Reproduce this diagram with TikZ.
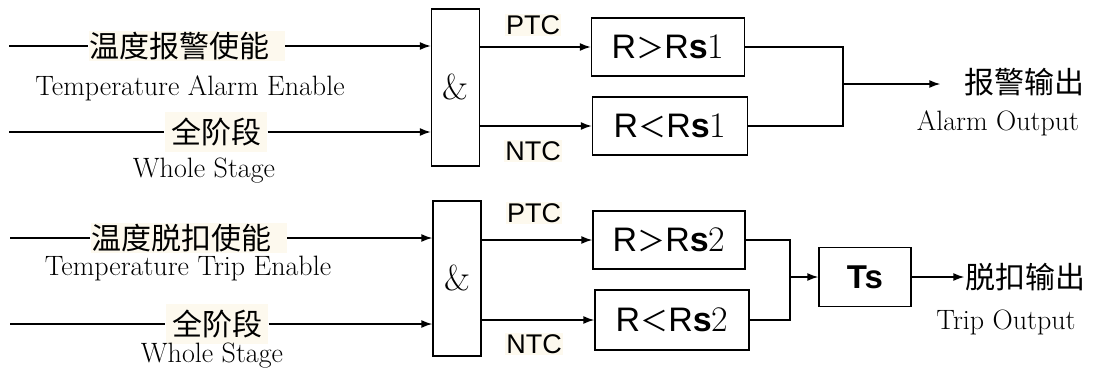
\documentclass[tikz,border=0pt]{standalone}
\usepackage{fontspec}
\usepackage{tikz}
\usetikzlibrary{arrows.meta}
\newfontfamily\cjk{Noto Sans CJK SC}
\newfontfamily\arial{Liberation Sans}
\definecolor{paper}{RGB}{253,249,238}
\newcommand{\gt}{{\cjk\fontsize{28}{30}\selectfont ＞}}
\newcommand{\lt}{{\cjk\fontsize{28}{30}\selectfont ＜}}
\newcommand{\dig}[1]{{\normalfont\fontsize{36}{36}\selectfont #1}}

\begin{document}
\begin{tikzpicture}[x=1pt, y=-1pt, line width=1.4pt,
	arr/.style = {-{Latex[length=11pt, width=8pt]}},
	cn/.style = {fill=paper, inner sep=1pt, font=\cjk\fontsize{30}{32}\selectfont},
	en/.style = {inner sep=0pt, font=\fontsize{28}{30}\selectfont},
	tag/.style = {fill=paper, inner sep=1pt, font=\arial\fontsize{27}{28}\selectfont},
	gate/.style = {draw, minimum width=48pt, font=\fontsize{36}{36}\selectfont},
	cmp/.style = {draw, minimum height=58pt, font=\arial\fontsize{34}{34}\selectfont}
]
\useasboundingbox (0,0) rectangle (1094,369);
% alarm
\coordinate (a1) at (9,46);
\coordinate (a2) at (9,132);
\node[cn, anchor=west] (t1) at (88,46) {温度报警使能\kern14pt};
\node[en] (e1) at (190,88) {Temperature Alarm Enable};
\node[cn, inner sep=6pt] (t2) at (216,132) {全阶段};
\node[en] (w1) at (204,171) {Whole Stage};
\node[gate, minimum height=157pt] (g1) at (455.5,87.5) {\&};
\node[tag] (ptc1) at (533,25) {PTC};
\node[tag] (ntc1) at (533,151) {NTC};
\node[cmp, minimum width=153pt] (c1) at (668,47) {R\gt R\textbf{s}\dig{1}};
\node[cmp, minimum width=155pt] (c2) at (670,126) {R\lt R\textbf{s}\dig{1}};
\coordinate (m1) at (843,84);
\node[cn, fill=none] (o1) at (1024,82) {报警输出};
\node[en] (oe1) at (998,123) {Alarm Output};
\draw (a1) -- (t1);
\draw[arr] (t1) -- (t1 -| g1.west);
\draw (a2) -- (t2);
\draw[arr] (t2) -- (t2 -| g1.west);
\draw[arr] (c1 -| g1.east) -- (c1);
\draw[arr] (c2 -| g1.east) -- (c2);
\draw (c1) -| (m1) |- (c2);
\draw[arr] (m1) -- ([xshift=-22pt]m1 -| o1.west);
% trip
\coordinate (a3) at (10,238);
\coordinate (a4) at (10,324);
\node[cn, anchor=west] (t3) at (90,238) {温度脱扣使能\kern14pt};
\node[en] (e3) at (188,269) {Temperature Trip Enable};
\node[cn, inner sep=6pt] (t4) at (217,324) {全阶段};
\node[en] (w2) at (212,356) {Whole Stage};
\node[gate, minimum height=155pt] (g2) at (457,278.5) {\&};
\node[tag] (ptc2) at (534,213) {PTC};
\node[tag] (ntc2) at (534,344) {NTC};
\node[cmp, minimum width=152pt] (c3) at (669,240) {R\gt R\textbf{s}\dig{2}};
\node[cmp, minimum width=154pt, minimum height=60pt] (c4) at (672,320) {R\lt R\textbf{s}\dig{2}};
\coordinate (m2) at (790,277);
\node[draw, minimum width=92pt, minimum height=59pt, font=\arial\bfseries\fontsize{33}{34}\selectfont] (ts) at (865,277) {Ts};
\node[cn, fill=none, inner sep=0pt] (o2) at (1025,277) {脱扣输出};
\node[en] (oe2) at (1006,322) {Trip Output};
\draw (a3) -- (t3);
\draw[arr] (t3) -- (t3 -| g2.west);
\draw (a4) -- (t4);
\draw[arr] (t4) -- (t4 -| g2.west);
\draw[arr] (c3 -| g2.east) -- (c3);
\draw[arr] (c4 -| g2.east) -- (c4);
\draw (c3) -| (m2) |- (c4);
\draw[arr] (m2) -- (ts);
\draw[arr] (ts) -- (o2);
\end{tikzpicture}
\end{document}
